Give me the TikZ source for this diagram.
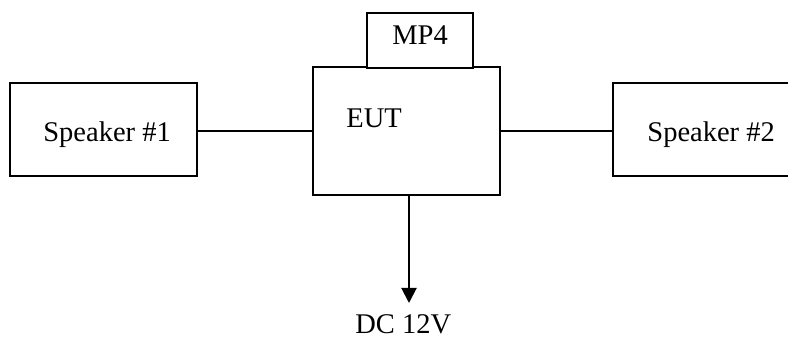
\documentclass[tikz,border=0pt]{standalone}
\usepackage{fontspec}
\setmainfont{Liberation Serif}
\usetikzlibrary{arrows.meta}
\begin{document}
\begin{tikzpicture}[x=0.5pt,y=-0.5pt,
  box/.style={draw=black,line width=1pt,rectangle,inner sep=0pt},
  lbl/.style={inner sep=0pt,anchor=base west,font=\fontsize{14.25}{17}\selectfont},
  conn/.style={draw=black,line width=1pt}]
\useasboundingbox (0,0) rectangle (788,340);
\clip (0,0) rectangle (788,340);
\node[box,minimum width=93.5pt,minimum height=46.5pt] (sp1) at (103.5,129.5) {};
\node[box,minimum width=93.5pt,minimum height=64pt] (eut) at (406.5,131) {};
\node[box,minimum width=53pt,minimum height=27.5pt,fill=white] (mp4) at (420,40.5) {};
\node[box,minimum width=100pt,minimum height=46.5pt] (sp2) at (713,129.5) {};
\node[lbl] (t1) at (43,142) {Speaker \#1};
\node[lbl] (t2) at (647,142) {Speaker \#2};
\node[lbl] (teut) at (346,128) {EUT};
\node[lbl] (tmp4) at (392,45) {MP4};
\node[lbl] (tdc) at (355,334) {DC 12V};
\coordinate (dc) at (409,303);
\draw[conn] (eut.west) -- (eut.west -| sp1.east);
\draw[conn] (eut.east) -- (eut.east -| sp2.west);
\draw[conn,-{Triangle[length=7.5pt,width=7.5pt]}] (eut.south -| dc) -- (dc);
\end{tikzpicture}
\end{document}
